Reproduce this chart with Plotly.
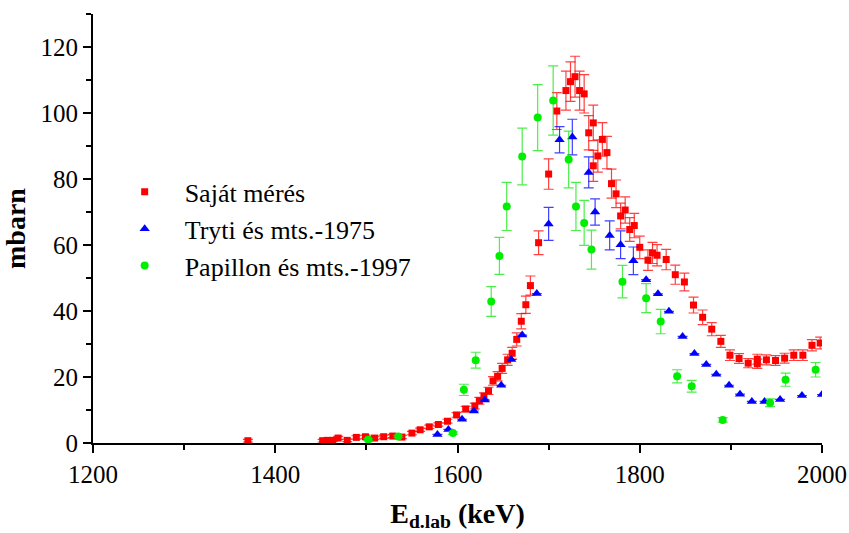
import plotly.graph_objects as go

# Saját mérés
own_E = [1370, 1452, 1457, 1463, 1469, 1479, 1489, 1499, 1509, 1519, 1529, 1539, 1550, 1559, 1569,
         1579, 1589, 1599, 1609, 1619, 1624, 1629, 1634, 1639, 1644, 1649, 1655, 1660, 1665, 1670,
         1675, 1680, 1689, 1700, 1709, 1719, 1724, 1729, 1734, 1739, 1744, 1749, 1749, 1754, 1759,
         1764, 1769, 1774, 1779, 1784, 1789, 1794, 1800, 1809, 1814, 1819, 1829, 1839, 1849, 1859,
         1869, 1879, 1889, 1899, 1909, 1919, 1929, 1929, 1939, 1949, 1959, 1969, 1979, 1989, 1998]
own_v = [0.7, 0.7, 0.8, 0.8, 1.5, 0.8, 1.7, 1.9, 1.5, 1.9, 2.1, 1.8, 3.0, 4.0, 4.9,
         5.6, 6.6, 8.5, 10.3, 11.2, 12.8, 14.2, 15.8, 18.8, 20.2, 22.6, 25.2, 27.2, 31.4, 36.9,
         41.9, 47.7, 60.7, 81.5, 100.6, 106.8, 109.5, 111.0, 106.8, 105.8, 94.0, 97.0, 84.0, 87.0, 92.0,
         88.0, 78.6, 75.5, 68.8, 70.6, 64.7, 65.9, 59.3, 55.4, 57.6, 56.9, 55.6, 51.0, 48.8, 41.8,
         38.1, 34.5, 30.8, 26.6, 25.6, 24.2, 25.4, 24.0, 25.2, 25.0, 25.7, 26.6, 26.6, 29.6, 30.3]
own_err = [0.4, 0.4, 0.4, 0.4, 0.5, 0.4, 0.5, 0.5, 0.5, 0.5, 0.5, 0.5, 0.5, 0.5, 0.5,
           0.5, 0.6, 0.7, 0.8, 0.9, 1.0, 1.0, 1.1, 1.3, 1.4, 1.5, 1.7, 1.8, 2.0, 2.3,
           2.6, 2.9, 3.6, 4.6, 5.6, 5.9, 6.0, 6.2, 5.9, 5.8, 5.2, 5.4, 4.7, 4.9, 5.1,
           4.9, 4.4, 4.2, 3.9, 4.0, 3.6, 3.7, 3.4, 3.1, 3.2, 3.2, 3.1, 2.9, 2.7, 2.4,
           2.2, 2.0, 1.8, 1.6, 1.5, 1.4, 1.5, 1.4, 1.5, 1.5, 1.5, 1.6, 1.6, 1.7, 1.8]

# Tryti és mts.-1975
tryti_E = [1578, 1590, 1605, 1618, 1630, 1648, 1659, 1671, 1687, 1700, 1712, 1726, 1744, 1751,
           1767, 1779, 1793, 1807, 1820, 1832, 1847, 1860, 1873, 1884, 1898, 1910, 1923, 1937,
           1954, 1978, 2000]
tryti_v = [2.6, 4.1, 7.2, 9.7, 13.0, 17.5, 25.3, 32.7, 45.3, 66.4, 91.9, 92.7, 82.0, 70.0,
           62.9, 60.1, 55.2, 49.5, 45.2, 39.9, 32.3, 27.1, 23.8, 20.8, 17.5, 14.8, 12.6, 12.6,
           13.2, 14.4, 14.7]
tryti_err = [0, 0, 0, 0, 0, 0, 0, 0, 0, 5.0, 4.0, 5.4, 4.7, 4.0,
             4.4, 4.2, 4.2, 0, 0, 0, 0, 0, 0, 0, 0, 0, 0, 0,
             0, 0, 0]

# Papillon és mts.-1997
pap_E = [1502, 1535, 1595, 1607, 1620, 1637, 1646, 1654, 1671, 1688, 1705, 1722, 1730, 1739,
         1747, 1781, 1807, 1823, 1841, 1857, 1891, 1943, 1960, 1993]
pap_v = [1.0, 2.0, 3.0, 16.1, 25.1, 42.9, 56.7, 71.7, 86.8, 98.6, 103.8, 85.9, 71.7, 66.7,
         58.6, 48.9, 43.9, 36.8, 20.2, 17.2, 7.0, 12.2, 19.2, 22.2]
pap_err = [0.3, 0.3, 0.4, 1.7, 2.4, 4.5, 5.6, 7.3, 8.6, 10.0, 10.5, 8.6, 7.3, 6.8,
           5.9, 4.9, 4.4, 3.7, 2.0, 1.8, 0.7, 1.2, 2.0, 2.2]

FONT = "Liberation Serif"

fig = go.Figure()
fig.add_trace(go.Scatter(
    x=own_E, y=own_v, mode="markers", name="Saját mérés",
    marker=dict(symbol="square", size=7, color="#ff0000"),
    error_y=dict(type="data", array=own_err, visible=True, color="rgba(255,0,0,0.75)",
                 thickness=1.2, width=5),
))
fig.add_trace(go.Scatter(
    x=tryti_E, y=tryti_v, mode="markers", name="Tryti és mts.-1975",
    marker=dict(symbol="triangle-up", size=9, color="#0000ff"),
    error_y=dict(type="data", array=tryti_err, visible=True, color="rgba(0,0,255,0.75)",
                 thickness=1.2, width=5),
))
fig.add_trace(go.Scatter(
    x=pap_E, y=pap_v, mode="markers", name="Papillon és mts.-1997",
    marker=dict(symbol="circle", size=8, color="#00ee00"),
    error_y=dict(type="data", array=pap_err, visible=True, color="rgba(0,230,0,0.7)",
                 thickness=1.2, width=5),
))

axis_common = dict(
    showline=True, linecolor="black", linewidth=2, ticks="outside", ticklen=8,
    tickwidth=2, tickcolor="black", showgrid=False, zeroline=False, mirror=False,
    automargin=False,
    tickfont=dict(family=FONT, size=25, color="black"),
)

fig.update_layout(
    width=849, height=533,
    margin=dict(l=93, r=27, t=14, b=90, autoexpand=False),
    paper_bgcolor="white", plot_bgcolor="white",
    font=dict(family=FONT, color="black"),
    showlegend=True,
    legend=dict(x=0.016, y=0.64, xanchor="left", yanchor="top",
                font=dict(family=FONT, size=26, color="black"),
                itemwidth=70,
                bgcolor="rgba(0,0,0,0)", tracegroupgap=0),
    xaxis=dict(range=[1200, 2000], dtick=200, tick0=1200,
               minor=dict(dtick=100, ticks="outside", ticklen=5, tickwidth=2, tickcolor="black"),
               title=dict(text="<b>E<sub>d.lab</sub> (keV)</b>",
                          font=dict(family=FONT, size=28, color="black"), standoff=16),
               **axis_common),
    yaxis=dict(range=[0, 130], dtick=20, tick0=0,
               minor=dict(dtick=10, ticks="outside", ticklen=5, tickwidth=2, tickcolor="black"),
               title=dict(text="<b>mbarn</b>", font=dict(family=FONT, size=28, color="black"),
                          standoff=10),
               **axis_common),
)

fig.write_html("out.html")
